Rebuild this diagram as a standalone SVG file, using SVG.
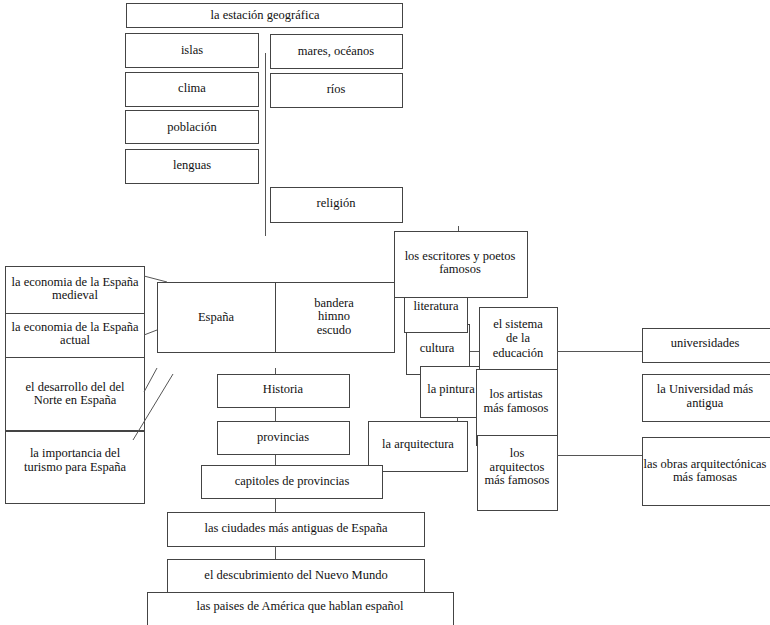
<svg xmlns="http://www.w3.org/2000/svg" width="770" height="625" viewBox="0 0 770 625">
<style>
rect.b{fill:#fff;stroke:#444;stroke-width:1}
line{stroke:#555;stroke-width:1}
text{font-family:'Liberation Serif','Times New Roman',serif;font-size:12.5px;fill:#111;text-anchor:middle}
</style>
<rect width="770" height="625" fill="#fff"/>
<g id="nodes">
<g id="estacion"><rect class="b" x="126.5" y="3.5" width="276" height="24"/><text x="265" y="19">la estación geográfica</text></g>
<g id="islas"><rect class="b" x="125.5" y="33.5" width="133" height="34"/><text x="192" y="54">islas</text></g>
<g id="clima"><rect class="b" x="125.5" y="72.5" width="133" height="34"/><text x="192" y="92">clima</text></g>
<g id="poblacion"><rect class="b" x="125.5" y="110.5" width="133" height="33"/><text x="192" y="131">población</text></g>
<g id="lenguas"><rect class="b" x="125.5" y="149.5" width="133" height="34"/><text x="192" y="169">lenguas</text></g>
<g id="mares"><rect class="b" x="270.5" y="34.5" width="132" height="34"/><text x="336" y="55">mares, océanos</text></g>
<g id="rios"><rect class="b" x="270.5" y="73.5" width="132" height="34"/><text x="336" y="93">ríos</text></g>
<g id="religion"><rect class="b" x="270.5" y="187.5" width="132" height="35"/><text x="336" y="207">religión</text></g>
<g id="eco-medieval"><rect class="b" x="5.5" y="266.5" width="139" height="47"/><text x="75" y="286">la economia de la España</text><text x="75" y="299">medieval</text></g>
<g id="eco-actual"><rect class="b" x="5.5" y="313.5" width="139" height="44"/><text x="75" y="331">la economia de la España</text><text x="75" y="344">actual</text></g>
<g id="desarrollo"><rect class="b" x="5.5" y="357.5" width="139" height="73"/><text x="75" y="391">el desarrollo del del</text><text x="75" y="404">Norte en España</text></g>
<g id="turismo"><rect class="b" x="5.5" y="431.5" width="139" height="72"/><text x="75" y="457">la importancia del</text><text x="75" y="471">turismo para España</text></g>
<g id="espana"><rect class="b" x="157.5" y="282.5" width="237" height="70"/><line x1="275.5" y1="282" x2="275.5" y2="352" style="stroke:#444"/><text x="216" y="321">España</text><text x="334" y="307">bandera</text><text x="334" y="320">himno</text><text x="334" y="334">escudo</text></g>
<g id="cultura"><rect class="b" x="406.5" y="324.5" width="63" height="50"/><text x="437" y="352">cultura</text></g>
<g id="literatura"><rect class="b" x="404.5" y="290.5" width="63" height="42"/><text x="436" y="310">literatura</text></g>
<g id="escritores"><rect class="b" x="394.5" y="231.5" width="133" height="66"/><text x="460" y="260">los escritores y poetos</text><text x="460" y="273">famosos</text></g>
<g id="pintura"><rect class="b" x="420.5" y="366.5" width="62" height="51"/><text x="451" y="393">la pintura</text></g>
<g id="sistema"><rect class="b" x="479.5" y="307.5" width="78" height="62"/><text x="518" y="328">el sistema</text><text x="518" y="342">de la</text><text x="518" y="357">educación</text></g>
<g id="artistas"><rect class="b" x="476.5" y="369.5" width="81" height="76"/><text x="516" y="398">los artistas</text><text x="516" y="412">más famosos</text></g>
<g id="arquitectura"><rect class="b" x="368.5" y="421.5" width="99" height="50"/><text x="418" y="448">la arquitectura</text></g>
<g id="arquitectos"><rect class="b" x="477.5" y="435.5" width="80" height="75"/><text x="517" y="457">los</text><text x="517" y="471">arquitectos</text><text x="517" y="484">más famosos</text></g>
<g id="universidades"><rect class="b" x="642.5" y="328.5" width="130" height="34"/><text x="705" y="347">universidades</text></g>
<g id="univ-antigua"><rect class="b" x="642.5" y="374.5" width="130" height="47"/><text x="705" y="393">la Universidad más</text><text x="705" y="407">antigua</text></g>
<g id="obras"><rect class="b" x="642.5" y="437.5" width="130" height="68"/><text x="705" y="468">las obras arquitectónicas</text><text x="705" y="481">más famosas</text></g>
<g id="historia"><rect class="b" x="217.5" y="374.5" width="132" height="33"/><text x="283" y="393">Historia</text></g>
<g id="provincias"><rect class="b" x="217.5" y="421.5" width="132" height="33"/><text x="283" y="441">provincias</text></g>
<g id="capitoles"><rect class="b" x="201.5" y="465.5" width="181" height="33"/><text x="292" y="485">capitoles de provincias</text></g>
<g id="ciudades"><rect class="b" x="167.5" y="512.5" width="257" height="34"/><text x="296" y="532">las ciudades más antiguas de España</text></g>
<g id="descubrimiento"><rect class="b" x="167.5" y="559.5" width="257" height="33"/><text x="296" y="579">el descubrimiento del Nuevo Mundo</text></g>
<g id="paises"><rect class="b" x="147.5" y="592.5" width="306" height="35"/><text x="300" y="610">las paises de América que hablan español</text></g>
</g>
<g id="connectors">
<line x1="265.5" y1="53" x2="265.5" y2="236"/>
<line x1="458.5" y1="226" x2="458.5" y2="231"/>
<line x1="144" y1="276" x2="167" y2="282"/>
<line x1="144" y1="335" x2="157" y2="330"/>
<line x1="157" y1="368" x2="144" y2="392"/>
<line x1="173" y1="374" x2="133" y2="440"/>
<line x1="275.5" y1="368" x2="275.5" y2="374"/>
<line x1="275.5" y1="408" x2="275.5" y2="421"/>
<line x1="275.5" y1="455" x2="275.5" y2="465"/>
<line x1="275.5" y1="499" x2="275.5" y2="512"/>
<line x1="275.5" y1="546" x2="275.5" y2="559"/>
<line x1="470" y1="351.5" x2="479" y2="351.5"/>
<line x1="557" y1="351.5" x2="642" y2="351.5"/>
<line x1="457.5" y1="417" x2="457.5" y2="421"/>
<line x1="557" y1="455.5" x2="642" y2="455.5"/>
</g>
</svg>
